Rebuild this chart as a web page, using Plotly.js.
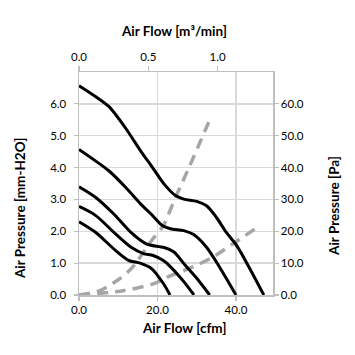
<!DOCTYPE html>
<html>
<head>
<meta charset="utf-8">
<script src="https://cdn.plot.ly/plotly-3.0.1.min.js"></script>
<style>html,body{margin:0;padding:0;background:#fff;}#chart{width:355px;height:355px;}</style>
</head>
<body>
<div id="chart"></div>
<script>
// Fan P-Q curves (cfm, mm-H2O)
const c1Flow = [0, 4.2, 7.6, 11.8, 16.0, 18.3, 21.7, 24.6, 26.7, 30.0, 32.5, 35.0, 37.5, 40.2, 43.3, 47.1];
const c1Pres = [6.57, 6.23, 5.92, 5.25, 4.47, 4.08, 3.48, 3.12, 3.01, 2.94, 2.80, 2.44, 1.97, 1.55, 0.88, 0.0];
const c2Flow = [0, 4.2, 7.6, 11.8, 16.0, 18.3, 21.2, 23.3, 26.7, 29.2, 32.5, 35.8, 40.0];
const c2Pres = [4.57, 4.21, 3.90, 3.39, 2.82, 2.55, 2.18, 2.08, 2.02, 1.90, 1.50, 0.88, 0.0];
const c3Flow = [0, 4.2, 8.8, 13.1, 16.9, 18.3, 21.7, 24.2, 26.7, 29.9, 33.3];
const c3Pres = [3.40, 3.07, 2.55, 1.98, 1.62, 1.56, 1.49, 1.35, 0.99, 0.54, 0.0];
const c4Flow = [0, 4.2, 9.3, 13.5, 16.4, 18.9, 21.5, 23.2, 26.5, 29.3];
const c4Pres = [2.78, 2.50, 1.92, 1.48, 1.30, 1.24, 1.08, 0.90, 0.45, 0.0];
const c5Flow = [0, 4.2, 9.3, 12.6, 15.6, 18.5, 21.5, 23.2];
const c5Pres = [2.30, 1.97, 1.40, 1.09, 1.00, 0.83, 0.36, 0.0];
// System impedance curves (cfm, mm-H2O)
const s1Flow = [0, 5.0, 10.0, 13.5, 18.5, 21.5, 24.4, 28.2, 33.7];
const s1Pres = [0, 0.12, 0.48, 0.85, 1.71, 2.18, 3.01, 4.05, 5.61];
const s2Flow = [0, 10.5, 18.9, 23.2, 29.0, 34.1, 39.6, 45.9];
const s2Pres = [0, 0.12, 0.35, 0.60, 0.88, 1.19, 1.64, 2.16];

const leftTicks = [0, 1, 2, 3, 4, 5, 6];
const rightTicks = [0, 10, 20, 30, 40, 50, 60];
const bottomTicks = [0, 20, 40];
const topTicks = [0, 0.5, 1.0];

const FONT = "Lato, 'Liberation Sans', Arial, sans-serif";
const black = {color: '#000000', width: 3, shape: 'spline', smoothing: 0.8};
const gray = {color: '#a6a6a6', width: 3.5, dash: '11px,7px', shape: 'spline', smoothing: 0.8};

const traces = [
  {x: s1Flow, y: s1Pres, mode: 'lines', line: gray},
  {x: s2Flow, y: s2Pres, mode: 'lines', line: gray},
  {x: c1Flow, y: c1Pres, mode: 'lines', line: black},
  {x: c2Flow, y: c2Pres, mode: 'lines', line: black},
  {x: c3Flow, y: c3Pres, mode: 'lines', line: black},
  {x: c4Flow, y: c4Pres, mode: 'lines', line: black},
  {x: c5Flow, y: c5Pres, mode: 'lines', line: black},
  {x: [0], y: [0], xaxis: 'x2', yaxis: 'y2', mode: 'markers', marker: {opacity: 0}, hoverinfo: 'skip'}
];

const tickFont = {family: FONT, size: 11.5, color: '#000000'};
const titleFont = {family: FONT, size: 13.5, color: '#000000', weight: 'bold'};

const axisCommon = {
  showline: true, linecolor: '#bfbfbf', linewidth: 1.5,
  ticks: 'outside', ticklen: 4, tickcolor: '#bfbfbf', tickwidth: 1.2,
  zeroline: false, tickfont: tickFont, tickformat: '.1f'
};

const layout = {
  width: 355, height: 355,
  margin: {l: 79, r: 82, t: 72, b: 60, pad: 0},
  showlegend: false,
  paper_bgcolor: '#ffffff', plot_bgcolor: '#ffffff',
  xaxis: Object.assign({}, axisCommon, {
    range: [0, 49.44], tickvals: bottomTicks,
    showgrid: true, gridcolor: '#d9d9d9', gridwidth: 1.5
  }),
  xaxis2: Object.assign({}, axisCommon, {
    overlaying: 'x', side: 'top', anchor: 'y',
    range: [0, 1.4], tickvals: topTicks, showgrid: false, ticklen: 5
  }),
  yaxis: Object.assign({}, axisCommon, {
    range: [0, 7], tickvals: leftTicks,
    showgrid: true, gridcolor: '#d9d9d9', gridwidth: 1.5,
    ticklabelstandoff: 5
  }),
  yaxis2: Object.assign({}, axisCommon, {
    overlaying: 'y', side: 'right', anchor: 'x',
    range: [0, 70], tickvals: rightTicks, showgrid: false
  }),
  annotations: [
    {text: 'Air Flow [m³/min]', xref: 'paper', yref: 'paper', x: 0.492, y: 1.184,
     xanchor: 'center', yanchor: 'middle', showarrow: false, font: titleFont},
    {text: 'Air Flow [cfm]', xref: 'paper', yref: 'paper', x: 0.541, y: -0.148,
     xanchor: 'center', yanchor: 'middle', showarrow: false, font: titleFont},
    {text: 'Air Pressure [mm-H2O]', xref: 'paper', yref: 'paper', x: -0.304, y: 0.39,
     xanchor: 'center', yanchor: 'middle', textangle: -90, showarrow: false, font: titleFont},
    {text: 'Air Pressure [Pa]', xref: 'paper', yref: 'paper', x: 1.314, y: 0.399,
     xanchor: 'center', yanchor: 'middle', textangle: -90, showarrow: false, font: titleFont}
  ]
};

Plotly.newPlot('chart', traces, layout, {staticPlot: true, displayModeBar: false});
</script>
</body>
</html>
